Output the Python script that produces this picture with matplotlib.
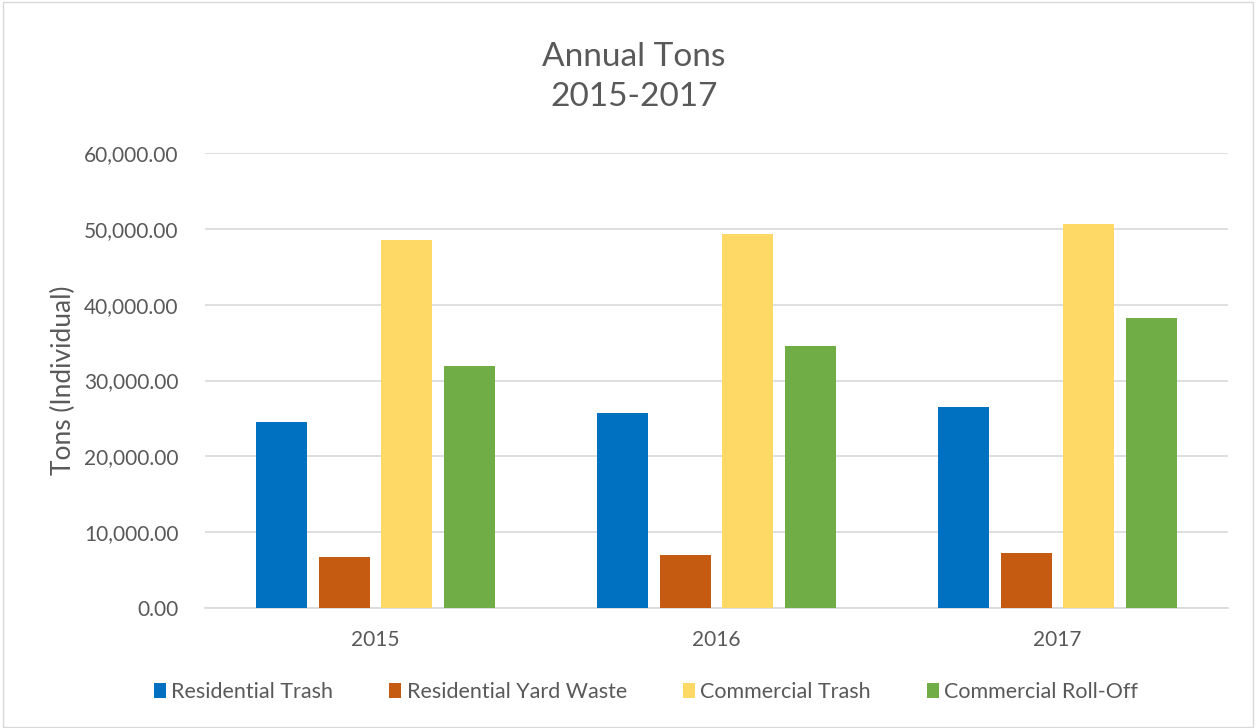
import numpy as np
import matplotlib
matplotlib.use("Agg")
import matplotlib.pyplot as plt
from matplotlib.patches import Rectangle

plt.rcParams['font.family'] = ['Lato', 'DejaVu Sans']

years = ["2015", "2016", "2017"]
series = ["Residential Trash", "Residential Yard Waste", "Commercial Trash", "Commercial Roll-Off"]
res_trash = [24580, 25670, 26520]
yard_waste = [6770, 7030, 7260]
comm_trash = [48500, 49290, 50700]
roll_off = [31870, 34560, 38260]
colors = ["#0070c0", "#c55a11", "#ffd966", "#70ad47"]

values = [res_trash, yard_waste, comm_trash, roll_off]
text_color = "#595959"

fig = plt.figure(figsize=(12.57, 7.28), dpi=100)
ax = fig.add_axes([205 / 1257, 1 - 608 / 728, 1023 / 1257, 455 / 728])

x = np.arange(len(years))
width = 0.149
pitch = 0.183
for i, (name, vals, c) in enumerate(zip(series, values, colors)):
    ax.bar(x + (i - 1.5) * pitch, vals, width, color=c, label=name, zorder=3)

ax.set_xlim(-0.5, 2.5)
ax.set_ylim(0, 60000)
ax.set_yticks(np.arange(0, 60001, 10000))
ax.set_yticklabels([f"{v:,.2f}" for v in np.arange(0, 60001, 10000)])
ax.set_xticks(x)
ax.set_xticklabels(years)
ax.grid(axis="y", color="#d9d9d9", linewidth=1.2, zorder=0)
for s in ["top", "right", "left"]:
    ax.spines[s].set_visible(False)
ax.spines["bottom"].set_color("#d9d9d9")
ax.spines["bottom"].set_linewidth(1.2)
ax.tick_params(length=0, labelsize=15, colors=text_color, pad=16)
ax.tick_params(axis="y", pad=19)
ax.set_ylabel("Tons (Individual)", fontsize=19, color=text_color, labelpad=6)

fig.text(634 / 1257, 1 - 77 / 728, "Annual Tons\n2015-2017", ha="center", va="center",
         fontsize=24, color=text_color, linespacing=1.45)

leg = fig.legend(loc="center", bbox_to_anchor=(646 / 1257, 1 - 692 / 728), ncol=4,
                 frameon=False, fontsize=15.5, handlelength=0.55, handleheight=0.7,
                 handletextpad=0.25, columnspacing=2.6)
for t in leg.get_texts():
    t.set_color(text_color)

fig.patches.append(Rectangle((0.002, 0.002), 0.995, 0.995, transform=fig.transFigure,
                             fill=False, edgecolor="#d9d9d9", linewidth=1))

fig.savefig("out.png", dpi=100, facecolor="white")
